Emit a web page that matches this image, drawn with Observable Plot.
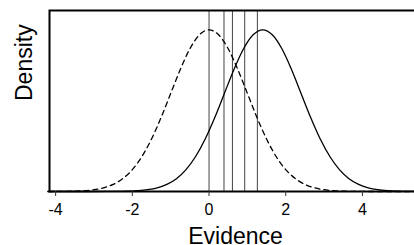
<!DOCTYPE html>
<html>
<head>
<meta charset="utf-8">
<script src="https://cdn.jsdelivr.net/npm/d3@7"></script>
<script src="https://cdn.jsdelivr.net/npm/@observablehq/plot@0.6"></script>
<style>
  html, body { margin: 0; padding: 0; background: white; overflow: hidden; }
</style>
</head>
<body>
<div id="chart"></div>
<script>
// Noise distribution (dashed), centred at 0
const noiseX = [-4.2, -4, -3.75, -3.5, -3.25, -3, -2.75, -2.5, -2.25, -2, -1.75, -1.5, -1.25, -1, -0.75, -0.5, -0.25, 0,
  0.25, 0.5, 0.75, 1, 1.25, 1.5, 1.75, 2, 2.25, 2.5, 2.75, 3, 3.25, 3.5, 3.75, 4, 4.5, 5, 5.6];
const noiseY = [0, 0.0001, 0.0004, 0.0009, 0.0020, 0.0044, 0.0091, 0.0175, 0.0317, 0.0540, 0.0863, 0.1295, 0.1826, 0.2420, 0.3011, 0.3521, 0.3867, 0.3989,
  0.3867, 0.3521, 0.3011, 0.2420, 0.1826, 0.1295, 0.0863, 0.0540, 0.0317, 0.0175, 0.0091, 0.0044, 0.0020, 0.0009, 0.0004, 0.0001, 0, 0, 0];

// Signal distribution (solid), centred near 1.4
const signalX = [-4.2, -3.2, -2.6, -2.35, -2.1, -1.85, -1.6, -1.35, -1.1, -0.85, -0.6, -0.35, -0.1, 0.15, 0.4, 0.65, 0.9, 1.15, 1.4,
  1.65, 1.9, 2.15, 2.4, 2.65, 2.9, 3.15, 3.4, 3.65, 3.9, 4.15, 4.4, 4.65, 4.9, 5.15, 5.4, 5.6];
const signalY = [0, 0, 0.0001, 0.0004, 0.0009, 0.0020, 0.0044, 0.0091, 0.0175, 0.0317, 0.0540, 0.0863, 0.1295, 0.1826, 0.2420, 0.3011, 0.3521, 0.3867, 0.3989,
  0.3867, 0.3521, 0.3011, 0.2420, 0.1826, 0.1295, 0.0863, 0.0540, 0.0317, 0.0175, 0.0091, 0.0044, 0.0020, 0.0009, 0.0004, 0.0001, 0];

// Decision criteria (vertical lines)
const criteria = [0, 0.39, 0.61, 0.93, 1.26];

// Axis ticks
const tickValues = [-4, -2, 0, 2, 4];
const tickLabels = ["-4", "-2", "0", "2", "4"];

const noise = noiseX.map((x, i) => ({x, y: noiseY[i]}));
const signal = signalX.map((x, i) => ({x, y: signalY[i]}));

const font = "'Liberation Sans', Arial, Helvetica, sans-serif";

const chart = Plot.plot({
  width: 414,
  height: 245,
  marginLeft: 49,
  marginRight: -7,
  marginTop: 10,
  marginBottom: 54,
  style: {fontFamily: font, fontSize: "16px", background: "white", overflow: "hidden"},
  x: {domain: [-4.16, 5.54]},
  y: {domain: [0, 0.4466], axis: null},
  marks: [
    Plot.ruleX(criteria, {stroke: "#444", strokeWidth: 1}),
    Plot.line(noise, {x: "x", y: "y", curve: "monotone-x", stroke: "black", strokeWidth: 1.3, strokeDasharray: "5,4"}),
    Plot.line(signal, {x: "x", y: "y", curve: "monotone-x", stroke: "black", strokeWidth: 1.3}),
    Plot.frame({stroke: "black", strokeWidth: 2}),
    Plot.axisX({
      ticks: tickValues,
      tickFormat: () => "",
      tickSize: 5,
      label: null,
      stroke: "#333"
    }),
    Plot.text(tickValues, {x: d => d, text: (d, i) => tickLabels[i], frameAnchor: "bottom", dy: 18, fontSize: 16, lineAnchor: "middle", fill: "black"}),
    Plot.text(["Evidence"], {frameAnchor: "bottom", dy: 45, fontSize: 23, lineAnchor: "middle", fill: "black"}),
    Plot.text(["Density"], {frameAnchor: "left", dx: -25, rotate: -90, fontSize: 23, lineAnchor: "middle", fill: "black"})
  ]
});
document.getElementById("chart").appendChild(chart);
</script>
</body>
</html>
